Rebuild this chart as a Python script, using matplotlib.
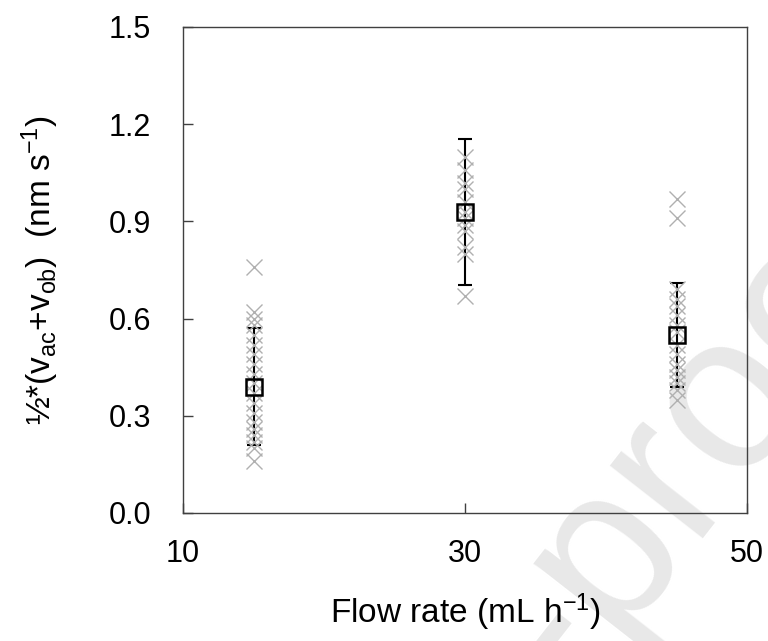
import matplotlib
matplotlib.use("Agg")
import matplotlib.pyplot as plt
import numpy as np

plt.rcParams['font.family'] = ['Liberation Sans', 'DejaVu Sans']
plt.rcParams['mathtext.fontset'] = 'custom'
plt.rcParams['mathtext.rm'] = 'Liberation Sans'
plt.rcParams['mathtext.it'] = 'Liberation Sans:italic'

# Data
flow_rates = [15, 30, 45]
raw_15 = [0.76, 0.62, 0.60, 0.58, 0.55, 0.52, 0.49, 0.46, 0.43, 0.40,
          0.37, 0.34, 0.31, 0.28, 0.26, 0.24, 0.22, 0.20, 0.16]
raw_30 = [1.10, 1.06, 1.02, 1.00, 0.96, 0.93, 0.91, 0.89, 0.87, 0.82, 0.80, 0.67]
raw_45 = [0.97, 0.91, 0.69, 0.66, 0.64, 0.61, 0.58, 0.56, 0.52, 0.49,
          0.46, 0.44, 0.42, 0.40, 0.38, 0.35]
means = [0.39, 0.93, 0.55]
sds = [0.18, 0.225, 0.16]
x_ticks = [10, 30, 50]
y_ticks = [0.0, 0.3, 0.6, 0.9, 1.2, 1.5]

fig = plt.figure(figsize=(7.68, 6.41), dpi=100)

# watermark
wx, wy = 569 / 768, 1 - 698 / 641
fig.text(wx, wy, "Journal Pre", fontsize=160, color='#e8e8e8',
         rotation=52, rotation_mode='anchor', ha='right', va='baseline', zorder=-5)
fig.text(wx, wy, "-proof", fontsize=160, color='#e8e8e8',
         rotation=52, rotation_mode='anchor', ha='left', va='baseline', zorder=-5)

ax = fig.add_axes([183/768, 1 - 513/641, (747 - 183)/768, (513 - 27)/641])
ax.patch.set_alpha(0)

ax.errorbar(flow_rates, means, yerr=sds, fmt='none', ecolor='black',
            elinewidth=1.5, capsize=5, capthick=1.5, zorder=2)
for xv, vals in zip(flow_rates, [raw_15, raw_30, raw_45]):
    ax.plot([xv] * len(vals), vals, linestyle='none', marker='x', markersize=12,
            markeredgewidth=1.0, color='#b0b0b0', zorder=3)
ax.plot(flow_rates, means, linestyle='none', marker='s', markersize=11,
        markerfacecolor='none', markeredgecolor='black', markeredgewidth=1.8, zorder=4)

ax.set_xlim(10, 50)
ax.set_ylim(0, 1.5)
ax.set_xticks(x_ticks)
ax.set_xticklabels([str(t) for t in x_ticks])
ax.set_yticks(y_ticks)
ax.set_yticklabels([f"{t:.1f}" for t in y_ticks])
ax.tick_params(direction='in', length=7, width=1, colors='#404040', labelcolor='black',
               labelsize=22)
ax.tick_params(axis='x', pad=19)
ax.tick_params(axis='y', pad=23)
for s in ax.spines.values():
    s.set_color('#404040')
    s.set_linewidth(1.0)

ax.set_xlabel(r"Flow rate (mL h$^{-1}$)", fontsize=24, labelpad=16)
ax.set_ylabel(r"½*(v$_{\rm ac}$+v$_{\rm ob}$)  (nm s$^{-1}$)", fontsize=24, labelpad=34)

fig.savefig("out.png", dpi=100)
